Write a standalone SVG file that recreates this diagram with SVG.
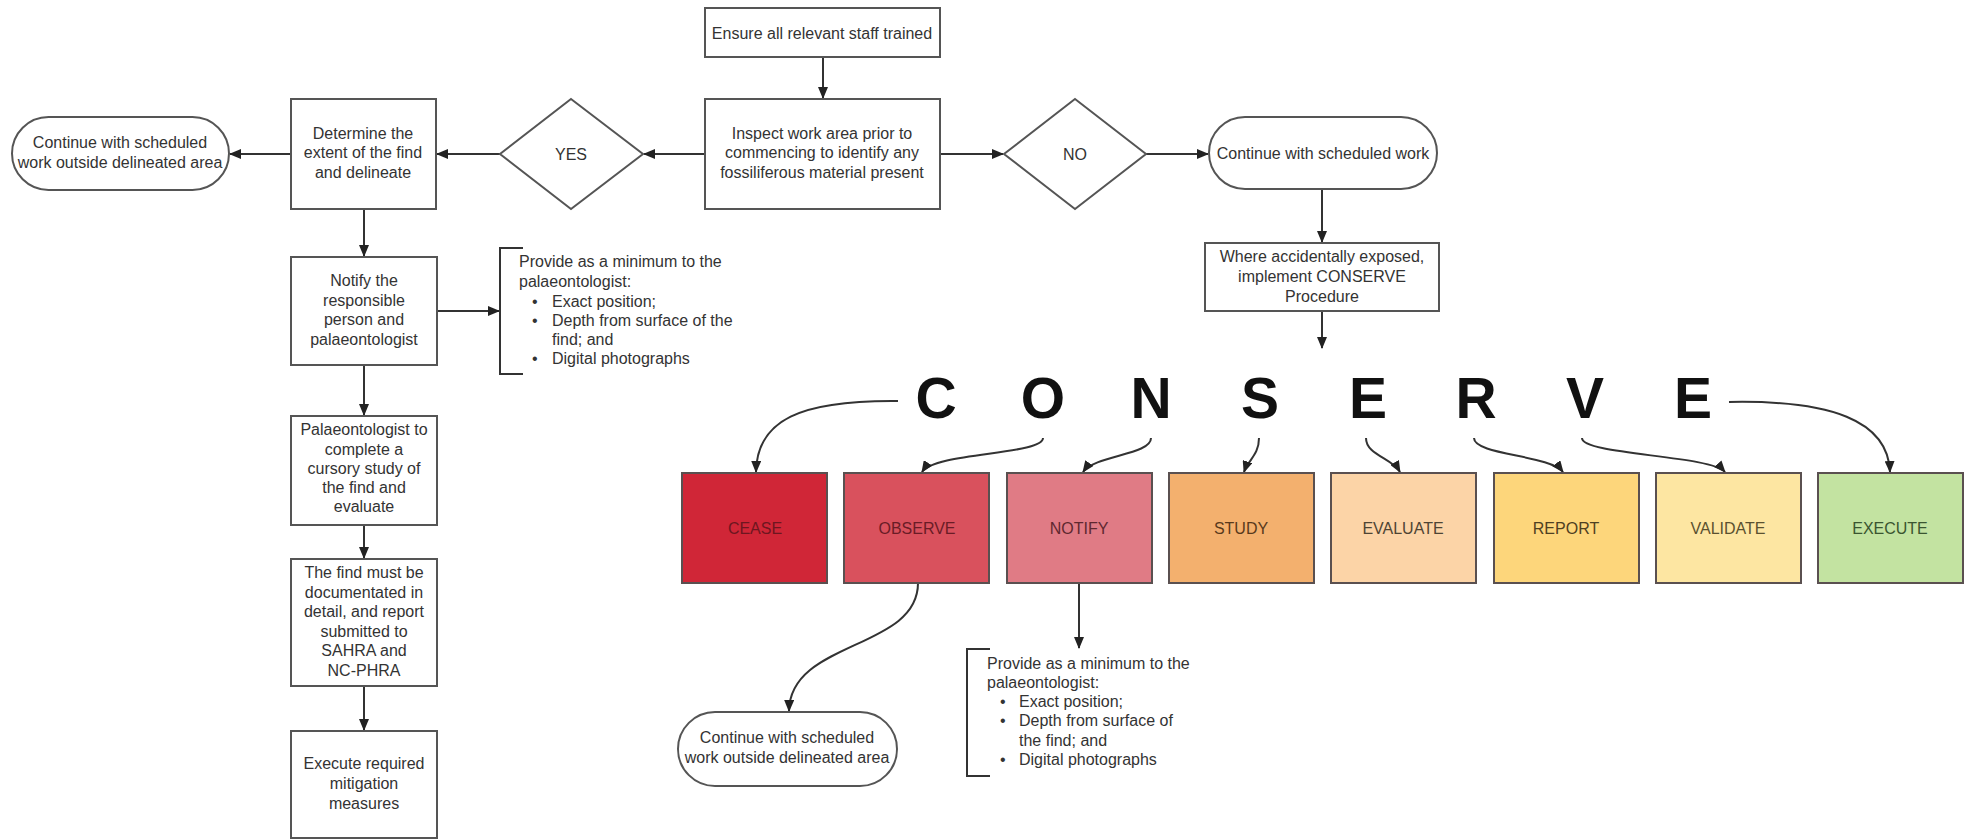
<svg xmlns="http://www.w3.org/2000/svg" width="1966" height="839" viewBox="0 0 1966 839">
<style>
.box{fill:#fff;stroke:#555;stroke-width:2}
.t{font-family:"Liberation Sans",Arial,sans-serif;font-size:16px;fill:#333;text-anchor:middle}
.tl{font-family:"Liberation Sans",Arial,sans-serif;font-size:16px;fill:#333}
.big{font-family:"Liberation Sans",Arial,sans-serif;font-size:57px;font-weight:bold;fill:#111;text-anchor:middle}
.cb{stroke:#5a5050;stroke-width:2}
.ct{font-family:"Liberation Sans",Arial,sans-serif;font-size:16px;text-anchor:middle}
.c{fill:none;stroke:#333;stroke-width:2;marker-end:url(#ah)}
.br{fill:none;stroke:#333;stroke-width:2}
</style>
<defs>
<marker id="ah" markerUnits="userSpaceOnUse" markerWidth="12" markerHeight="10" refX="11" refY="5" orient="auto">
<path d="M0,0 L12,5 L0,10 z" fill="#222"/>
</marker>
</defs>
<rect width="1966" height="839" fill="#fff"/>

<g id="connectors">
<path class="c" d="M823,57 V98"/>
<path class="c" d="M705,154 H644"/>
<path class="c" d="M500,154 H437"/>
<path class="c" d="M291,154 H230"/>
<path class="c" d="M940,154 H1003"/>
<path class="c" d="M1146,154 H1208"/>
<path class="c" d="M1322,189 V242"/>
<path class="c" d="M1322,311 V348"/>
<path class="c" d="M364,209 V256"/>
<path class="c" d="M437,311 H499"/>
<path class="c" d="M364,365 V415"/>
<path class="c" d="M364,525 V558"/>
<path class="c" d="M364,686 V730"/>
<path class="c" d="M898,401 C800,400 757,420 756,472"/>
<path class="c" d="M1043,438 C1043,455 935,452 922,472"/>
<path class="c" d="M1151,438 C1151,455 1095,455 1083,472"/>
<path class="c" d="M1259,438 C1259,455 1248,460 1244,472"/>
<path class="c" d="M1366,438 C1366,455 1392,458 1400,472"/>
<path class="c" d="M1474,438 C1474,455 1550,455 1563,472"/>
<path class="c" d="M1582,438 C1582,455 1710,455 1725,472"/>
<path class="c" d="M1729,402 C1830,400 1888,420 1890,472"/>
<path class="c" d="M918,583 C918,650 790,640 789,711"/>
<path class="c" d="M1079,583 V648"/>
</g>

<g id="ensure">
<rect class="box" x="705" y="8" width="235" height="49"/>
<text class="t" x="822" y="39">Ensure all relevant staff trained</text>
</g>
<g id="inspect">
<rect class="box" x="705" y="99" width="235" height="110"/>
<text class="t" x="822" y="139">Inspect work area prior to</text>
<text class="t" x="822" y="158">commencing to identify any</text>
<text class="t" x="822" y="178">fossiliferous material present</text>
</g>
<g id="yes">
<polygon class="box" points="571,99 643,154 571,209 500,154"/>
<text class="t" x="571" y="160">YES</text>
</g>
<g id="determine">
<rect class="box" x="291" y="99" width="145" height="110"/>
<text class="t" x="363" y="139">Determine the</text>
<text class="t" x="363" y="158">extent of the find</text>
<text class="t" x="363" y="178">and delineate</text>
</g>
<g id="continue-left">
<rect class="box" x="12" y="117" width="217" height="73" rx="36.5"/>
<text class="t" x="120" y="148">Continue with scheduled</text>
<text class="t" x="120" y="168">work outside delineated area</text>
</g>
<g id="no">
<polygon class="box" points="1075,99 1146,154 1075,209 1004,154"/>
<text class="t" x="1075" y="160">NO</text>
</g>
<g id="continue-right">
<rect class="box" x="1209" y="117" width="228" height="72" rx="36"/>
<text class="t" x="1323" y="159">Continue with scheduled work</text>
</g>
<g id="where">
<rect class="box" x="1205" y="243" width="234" height="68"/>
<text class="t" x="1322" y="262">Where accidentally exposed,</text>
<text class="t" x="1322" y="282">implement CONSERVE</text>
<text class="t" x="1322" y="302">Procedure</text>
</g>
<g id="notify-box">
<rect class="box" x="291" y="257" width="146" height="108"/>
<text class="t" x="364" y="286">Notify the</text>
<text class="t" x="364" y="306">responsible</text>
<text class="t" x="364" y="325">person and</text>
<text class="t" x="364" y="345">palaeontologist</text>
</g>
<g id="note-top">
<path class="br" d="M523,248 H500 V374 H523"/>
<text class="tl" x="519" y="267">Provide as a minimum to the</text>
<text class="tl" x="519" y="287">palaeontologist:</text>
<text class="tl" x="532" y="307">•</text>
<text class="tl" x="552" y="307">Exact position;</text>
<text class="tl" x="532" y="326">•</text>
<text class="tl" x="552" y="326">Depth from surface of the</text>
<text class="tl" x="552" y="345">find; and</text>
<text class="tl" x="532" y="364">•</text>
<text class="tl" x="552" y="364">Digital photographs</text>
</g>
<g id="palaeo">
<rect class="box" x="291" y="416" width="146" height="109"/>
<text class="t" x="364" y="435">Palaeontologist to</text>
<text class="t" x="364" y="455">complete a</text>
<text class="t" x="364" y="474">cursory study of</text>
<text class="t" x="364" y="493">the find and</text>
<text class="t" x="364" y="512">evaluate</text>
</g>
<g id="document">
<rect class="box" x="291" y="559" width="146" height="127"/>
<text class="t" x="364" y="578">The find must be</text>
<text class="t" x="364" y="598">documentated in</text>
<text class="t" x="364" y="617">detail, and report</text>
<text class="t" x="364" y="637">submitted to</text>
<text class="t" x="364" y="656">SAHRA and</text>
<text class="t" x="364" y="676">NC-PHRA</text>
</g>
<g id="execute-box">
<rect class="box" x="291" y="731" width="146" height="107"/>
<text class="t" x="364" y="769">Execute required</text>
<text class="t" x="364" y="789">mitigation</text>
<text class="t" x="364" y="809">measures</text>
</g>

<g id="conserve-letters">
<text class="big" x="936" y="418">C</text>
<text class="big" x="1043" y="418">O</text>
<text class="big" x="1151" y="418">N</text>
<text class="big" x="1260" y="418">S</text>
<text class="big" x="1368" y="418">E</text>
<text class="big" x="1476" y="418">R</text>
<text class="big" x="1585" y="418">V</text>
<text class="big" x="1693" y="418">E</text>
</g>

<g id="cease">
<rect class="cb" x="682" y="473" width="145" height="110" fill="#d02637"/>
<text class="ct" x="755" y="534" fill="#6e1620">CEASE</text>
</g>
<g id="observe">
<rect class="cb" x="844" y="473" width="145" height="110" fill="#d9515d"/>
<text class="ct" x="917" y="534" fill="#6a1c26">OBSERVE</text>
</g>
<g id="notify">
<rect class="cb" x="1007" y="473" width="145" height="110" fill="#e07b85"/>
<text class="ct" x="1079" y="534" fill="#5e2830">NOTIFY</text>
</g>
<g id="study">
<rect class="cb" x="1169" y="473" width="145" height="110" fill="#f3b06e"/>
<text class="ct" x="1241" y="534" fill="#58391c">STUDY</text>
</g>
<g id="evaluate">
<rect class="cb" x="1331" y="473" width="145" height="110" fill="#fcd4a7"/>
<text class="ct" x="1403" y="534" fill="#4e4434">EVALUATE</text>
</g>
<g id="report">
<rect class="cb" x="1494" y="473" width="145" height="110" fill="#fdd67b"/>
<text class="ct" x="1566" y="534" fill="#4e4022">REPORT</text>
</g>
<g id="validate">
<rect class="cb" x="1656" y="473" width="145" height="110" fill="#fde6a2"/>
<text class="ct" x="1728" y="534" fill="#5a5130">VALIDATE</text>
</g>
<g id="execute">
<rect class="cb" x="1818" y="473" width="145" height="110" fill="#c3e3a1"/>
<text class="ct" x="1890" y="534" fill="#3a5530">EXECUTE</text>
</g>

<g id="continue-bottom">
<rect class="box" x="678" y="712" width="219" height="74" rx="37"/>
<text class="t" x="787" y="743">Continue with scheduled</text>
<text class="t" x="787" y="763">work outside delineated area</text>
</g>
<g id="note-bottom">
<path class="br" d="M990,649 H967 V776 H990"/>
<text class="tl" x="987" y="669">Provide as a minimum to the</text>
<text class="tl" x="987" y="688">palaeontologist:</text>
<text class="tl" x="1000" y="707">•</text>
<text class="tl" x="1019" y="707">Exact position;</text>
<text class="tl" x="1000" y="726">•</text>
<text class="tl" x="1019" y="726">Depth from surface of</text>
<text class="tl" x="1019" y="746">the find; and</text>
<text class="tl" x="1000" y="765">•</text>
<text class="tl" x="1019" y="765">Digital photographs</text>
</g>
</svg>
